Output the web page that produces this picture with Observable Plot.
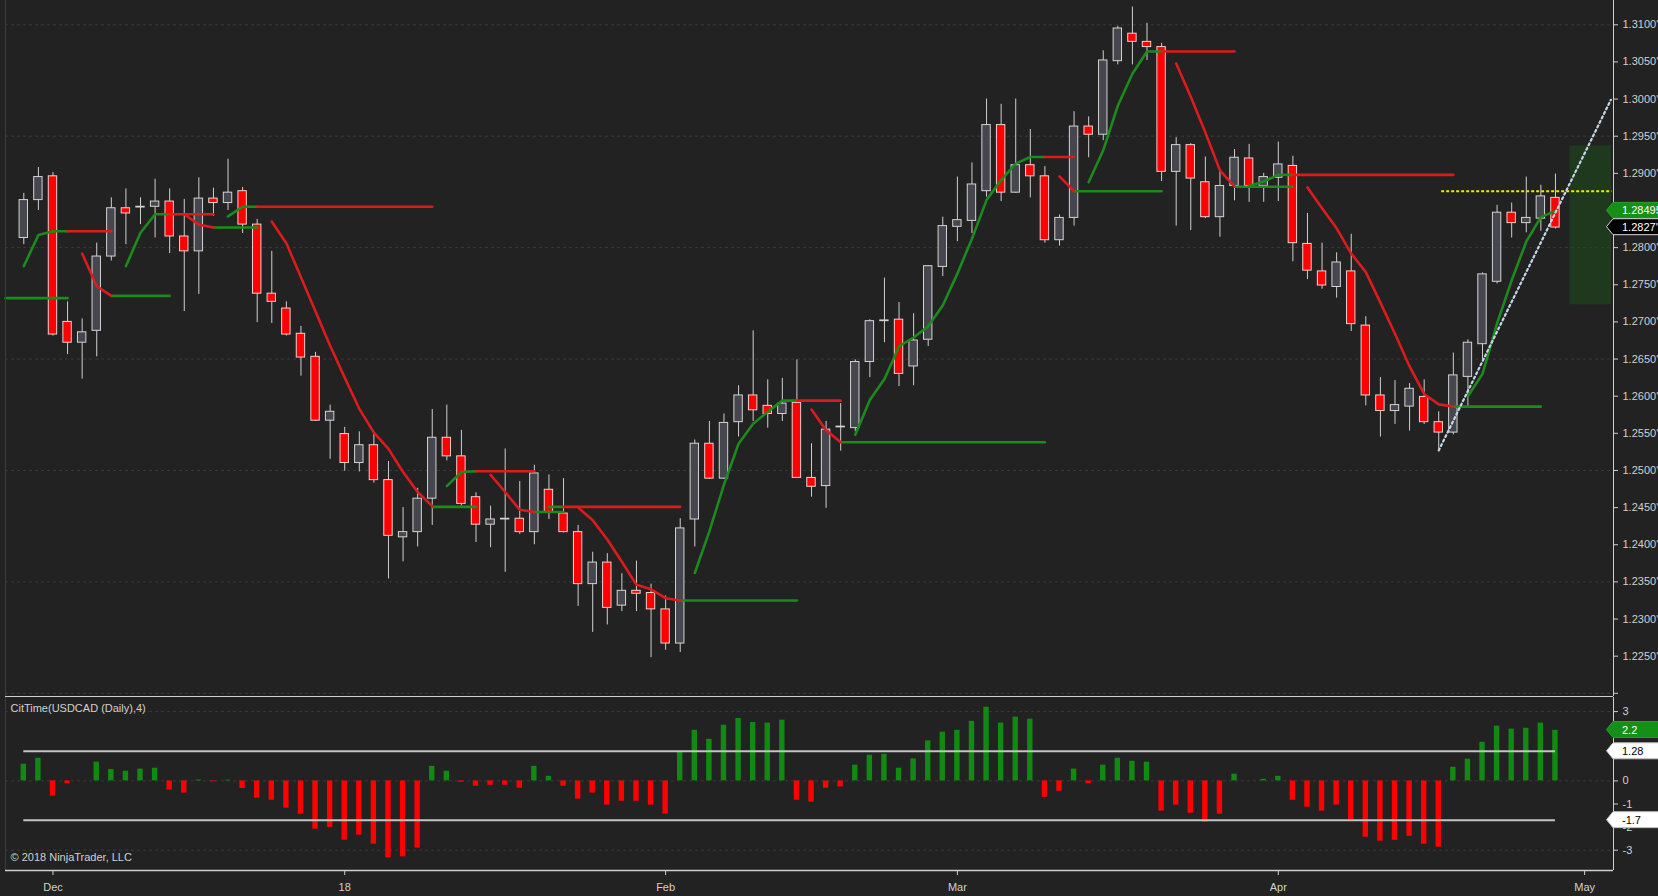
<!DOCTYPE html>
<html><head><meta charset="utf-8">
<script src="https://cdn.jsdelivr.net/npm/d3@7"></script>
<script src="https://cdn.jsdelivr.net/npm/@observablehq/plot@0.6"></script>
<style>
html,body{margin:0;padding:0;background:#222222;overflow:hidden}
#chart{width:1658px;height:896px;position:relative;background:#222222}
#chart svg{display:block}
</style></head><body><div id="chart"></div>
<script>
// ---- data (bar index 0 = 29 Nov 2017 ... 105 = 27 Apr 2018) ----
const opens = [1.2813,1.2864,1.2896,1.2700,1.2672,1.2688,1.2788,1.2853,1.2854,1.2855,
1.2862,1.2815,1.2795,1.2866,1.2860,1.2876,1.2831,1.2738,1.2718,1.2684,
1.2653,1.2567,1.2549,1.2510,1.2534,1.2487,1.2410,1.2417,1.2462,1.2544,
1.2519,1.2464,1.2427,1.2434,1.2435,1.2417,1.2474,1.2442,1.2417,1.2347,
1.2376,1.2318,1.2338,1.2335,1.2313,1.2267,1.2434,1.2536,1.2489,1.2565,
1.2601,1.2587,1.2576,1.2591,1.2490,1.2479,1.2558,1.2557,1.2646,1.2701,
1.2703,1.2640,1.2676,1.2774,1.2828,1.2836,1.2876,1.2965,1.2874,1.2911,
1.2896,1.2810,1.2840,1.2963,1.2952,1.3051,1.3088,1.3077,1.3070,1.2902,
1.2938,1.2888,1.2841,1.2883,1.2920,1.2883,1.2894,1.2910,1.2805,1.2768,
1.2747,1.2768,1.2695,1.2601,1.2580,1.2586,1.2599,1.2565,1.2551,1.2626,
1.2670,1.2754,1.2847,1.2833,1.2839,1.2867];
const highs = [1.2873,1.2908,1.2901,1.2727,1.2704,1.2806,1.2867,1.2879,1.2867,1.2892,
1.2879,1.2865,1.2894,1.2880,1.2919,1.2881,1.2838,1.2795,1.2727,1.2694,
1.2659,1.2588,1.2558,1.2552,1.2549,1.2512,1.2450,1.2476,1.2582,1.2588,
1.2554,1.2470,1.2452,1.2529,1.2485,1.2507,1.2494,1.2489,1.2426,1.2390,
1.2388,1.2361,1.2378,1.2347,1.2331,1.2435,1.2541,1.2566,1.2576,1.2614,
1.2688,1.2622,1.2624,1.2649,1.2536,1.2566,1.2590,1.2649,1.2703,1.2759,
1.2726,1.2711,1.2776,1.2841,1.2895,1.2914,1.3000,1.2993,1.3000,1.2959,
1.2909,1.2844,1.2983,1.2976,1.3065,1.3098,1.3124,1.3102,1.3075,1.2948,
1.2940,1.2922,1.2902,1.2932,1.2939,1.2900,1.2942,1.2923,1.2846,1.2806,
1.2793,1.2818,1.2707,1.2625,1.2621,1.2617,1.2622,1.2579,1.2658,1.2676,
1.2766,1.2857,1.2860,1.2895,1.2884,1.2899];
const lows = [1.2804,1.2850,1.2681,1.2656,1.2623,1.2653,1.2782,1.2804,1.2831,1.2813,
1.2792,1.2714,1.2737,1.2842,1.2850,1.2819,1.2699,1.2698,1.2681,1.2627,
1.2566,1.2515,1.2499,1.2498,1.2483,1.2354,1.2377,1.2397,1.2426,1.2513,
1.2452,1.2403,1.2396,1.2363,1.2414,1.2400,1.2434,1.2416,1.2317,1.2282,
1.2292,1.2310,1.2310,1.2248,1.2258,1.2255,1.2397,1.2488,1.2488,1.2545,
1.2566,1.2557,1.2566,1.2489,1.2464,1.2449,1.2526,1.2552,1.2625,1.2672,
1.2613,1.2614,1.2667,1.2761,1.2808,1.2819,1.2868,1.2862,1.2873,1.2867,
1.2806,1.2802,1.2829,1.2921,1.2944,1.3046,1.3046,1.3052,1.2889,1.2829,
1.2823,1.2839,1.2814,1.2863,1.2861,1.2861,1.2862,1.2781,1.2757,1.2744,
1.2732,1.2687,1.2587,1.2545,1.2562,1.2553,1.2562,1.2527,1.2548,1.2586,
1.2649,1.2751,1.2813,1.2820,1.2822,1.2825];
const closes = [1.2864,1.2895,1.2683,1.2672,1.2686,1.2788,1.2853,1.2846,1.2855,1.2862,
1.2815,1.2795,1.2866,1.2860,1.2874,1.2831,1.2738,1.2727,1.2683,1.2652,
1.2567,1.2579,1.2510,1.2534,1.2487,1.2412,1.2417,1.2462,1.2544,1.2519,
1.2455,1.2427,1.2434,1.2435,1.2417,1.2496,1.2443,1.2417,1.2347,1.2376,
1.2315,1.2338,1.2334,1.2313,1.2267,1.2422,1.2536,1.2489,1.2564,1.2601,
1.2581,1.2576,1.2590,1.2490,1.2478,1.2555,1.2559,1.2646,1.2701,1.2702,
1.2630,1.2675,1.2775,1.2829,1.2837,1.2885,1.2965,1.2874,1.2911,1.2896,
1.2810,1.2840,1.2963,1.2952,1.3052,1.3095,1.3077,1.3070,1.2902,1.2938,
1.2893,1.2841,1.2883,1.2921,1.2883,1.2895,1.2912,1.2806,1.2769,1.2749,
1.2780,1.2697,1.2601,1.2580,1.2588,1.2610,1.2565,1.2551,1.2628,1.2672,
1.2764,1.2847,1.2833,1.2840,1.2869,1.2827];
const citTime = [0.72,0.98,-0.66,-0.12,0.0,0.81,0.49,0.42,0.51,0.55,
-0.40,-0.53,0.04,-0.04,0.03,-0.33,-0.75,-0.84,-1.18,-1.44,
-2.09,-2.01,-2.57,-2.35,-2.74,-3.33,-3.29,-2.91,0.63,0.42,
-0.06,-0.23,-0.19,-0.19,-0.32,0.63,0.20,-0.23,-0.79,-0.53,
-1.05,-0.88,-0.88,-1.05,-1.44,1.24,2.19,1.80,2.41,2.70,
2.53,2.50,2.63,-0.84,-0.92,-0.32,-0.26,0.68,1.11,1.15,
0.55,0.95,1.73,2.11,2.19,2.58,3.19,2.50,2.76,2.67,
-0.71,-0.45,0.51,-0.12,0.68,0.98,0.85,0.81,-1.31,-1.05,
-1.40,-1.79,-1.44,0.29,0.0,0.07,0.20,-0.84,-1.14,-1.31,
-1.05,-1.70,-2.44,-2.61,-2.57,-2.40,-2.74,-2.87,0.59,0.94,
1.67,2.37,2.24,2.28,2.50,2.19];
// trailing stop lines: long (green) / short (red), points [bar index, price]
const stopSegments = [
 {side:"long", pts:[[-1.25,1.2732],[3,1.2732]]},
 {side:"long", pts:[[0,1.2775],[1,1.2817],[2,1.2822],[3,1.2822]]},
 {side:"short", pts:[[3,1.2822],[6,1.2822]]},
 {side:"short", pts:[[4,1.2792],[5,1.2748],[6,1.2735]]},
 {side:"long", pts:[[6,1.2735],[10,1.2735]]},
 {side:"long", pts:[[7,1.2775],[8,1.2820],[9,1.2845],[10,1.2845]]},
 {side:"short", pts:[[10,1.2845],[13,1.2845]]},
 {side:"short", pts:[[11,1.2845],[12,1.2831],[13,1.2827]]},
 {side:"long", pts:[[13,1.2827],[16,1.2827]]},
 {side:"long", pts:[[14,1.2842],[15,1.2855],[16,1.2855]]},
 {side:"short", pts:[[16,1.2855],[28,1.2855]]},
 {side:"short", pts:[[17,1.2835],[18,1.2806],[19,1.2760],[20,1.2714],[21,1.2668],[22,1.2625],[23,1.2583],[24,1.2551],[25,1.2529],[26,1.2498],[27,1.2471],[28,1.2452]]},
 {side:"long", pts:[[28,1.2451],[31,1.2451]]},
 {side:"long", pts:[[29,1.2479],[30,1.2498],[31,1.2499]]},
 {side:"short", pts:[[31,1.2499],[35,1.2499]]},
 {side:"short", pts:[[32,1.2494],[33,1.2471],[34,1.2447],[35,1.2444]]},
 {side:"long", pts:[[35,1.2444],[37,1.2444]]},
 {side:"long", pts:[[36,1.2451],[37,1.2451]]},
 {side:"short", pts:[[37,1.2451],[45,1.2451]]},
 {side:"short", pts:[[38,1.2450],[39,1.2433],[40,1.2407],[41,1.2377],[42,1.2346],[43,1.2340],[44,1.2328],[45,1.2325]]},
 {side:"long", pts:[[45,1.2325],[53,1.2325]]},
 {side:"long", pts:[[46,1.2362],[47,1.2418],[48,1.2481],[49,1.2536],[50,1.2563],[51,1.2579],[52,1.2594],[53,1.2594]]},
 {side:"short", pts:[[53,1.2594],[56,1.2594]]},
 {side:"short", pts:[[54,1.2582],[55,1.2554],[56,1.2538]]},
 {side:"long", pts:[[56,1.2538],[70,1.2538]]},
 {side:"long", pts:[[57,1.2548],[58,1.2595],[59,1.2623],[60,1.2667],[61,1.2679],[62,1.2694],[63,1.2722],[64,1.2765],[65,1.2812],[66,1.2864],[67,1.2891],[68,1.2913],[69,1.2922],[70,1.2922]]},
 {side:"short", pts:[[70,1.2922],[72,1.2922]]},
 {side:"short", pts:[[71,1.2896],[72,1.2876]]},
 {side:"long", pts:[[72,1.2876],[78,1.2876]]},
 {side:"long", pts:[[73,1.2888],[74,1.2931],[75,1.2991],[76,1.3034],[77,1.3064],[78,1.3064]]},
 {side:"short", pts:[[78,1.3064],[83,1.3064]]},
 {side:"short", pts:[[79,1.3048],[80,1.3003],[81,1.2955],[82,1.2904],[83,1.2882]]},
 {side:"long", pts:[[83,1.2882],[87,1.2882]]},
 {side:"long", pts:[[84,1.2883],[85,1.2889],[86,1.2898],[87,1.2898]]},
 {side:"short", pts:[[87,1.2898],[98,1.2898]]},
 {side:"short", pts:[[88,1.2881],[89,1.2853],[90,1.2826],[91,1.2792],[92,1.2767],[93,1.2726],[94,1.2684],[95,1.2640],[96,1.2603],[97,1.2589],[98,1.2586]]},
 {side:"long", pts:[[98,1.2586],[104,1.2586]]},
 {side:"long", pts:[[99,1.2600],[100,1.2630],[101,1.2698],[102,1.2756],[103,1.2808],[104,1.2841],[105,1.28495]]}
];
const trendLine = [[97,1.2527],[108.8,1.2999]];
const trigger = {from:97.2, price:1.2876};
const zone = {from:106, to:108.85, low:1.2723, high:1.2937};
const lastStop = 1.28495, lastClose = 1.28275, lastCit = 2.2;
const priceTicks = [1.2250,1.2300,1.2350,1.2400,1.2450,1.2500,1.2550,1.2600,1.2650,1.2700,1.2750,1.2800,1.2850,1.2900,1.2950,1.3000,1.3050,1.3100];
const priceTickMarks = [1.2200].concat(priceTicks);
const priceGrid = [1.2200,1.2350,1.2500,1.2650,1.2800,1.2950,1.3100];
const citTicks = [-3,-2,-1,0,1,2,3];
const citGrid = [-3,0,3];
const citLevels = [1.28,-1.7];
const monthTickIndex = [2,22,44,64,86,107];
const monthLabels = ["Dec","18","Feb","Mar","Apr","May"];
const indicatorTitle = "CitTime(USDCAD (Daily),4)";
const copyright = "© 2018 NinjaTrader, LLC";

// ---- layout ----
const W = 1658, H1 = 697, H2 = 199, mL = 5, mR = 45, mB2 = 26;
const xMin = -1.255, xMax = 108.98;
const pMin = 1.21957, pMax = 1.31327;
const vMin = -3.879, vMax = 3.610;
const ppi = (W - mL - mR) / (xMax - xMin);
const ppu = (H2 - mB2) / (vMax - vMin);
const ppp = (H1 - 1) / (pMax - pMin);
const bw = 4.2 / ppi, cbw = 2.7 / ppi;
const fontFamily = "'Liberation Sans', Arial, Helvetica, sans-serif";
const txt = "#d0d0d0", axisCol = "#cfcfcf";
const fmtPip = v => { const s = v.toFixed(5); return s.slice(0, -1) + "'" + s.slice(-1); };

const candles = opens.map((o, i) => ({i, o, h: highs[i], l: lows[i], c: closes[i]}));
const stopRows = stopSegments.flatMap((s, k) => s.pts.map(([i, p]) => ({k, i, p, side: s.side})));
const citRows = citTime.map((v, i) => ({i, v}));
// tick labels hidden behind the value tags (as on the original chart)
const priceTagVals = [lastStop, lastClose];
const citTagVals = [lastCit].concat(citLevels);
const priceLabels = priceTicks.filter(t => priceTagVals.every(v => Math.abs(v - t) * ppp > 6.7));
const citLabels = citTicks.filter(t => citTagVals.every(v => Math.abs(v - t) * ppu > 6.7));

const style = {background: "#222222", color: txt, fontFamily, fontSize: "11px"};

const p1 = Plot.plot({
  width: W, height: H1, marginLeft: mL, marginRight: mR, marginTop: 0, marginBottom: 1,
  x: {domain: [xMin, xMax], axis: null},
  y: {domain: [pMin, pMax], axis: null},
  style,
  marks: [
    Plot.ruleY(priceGrid, {y: d => d, stroke: "#3a3a3a", strokeDasharray: "3,3"}),
    Plot.rect([zone], {x1: "from", x2: "to", y1: "low", y2: "high", fill: "#1b4d1b", fillOpacity: 0.55}),
    Plot.ruleY([trigger], {y: "price", x1: "from", x2: xMax - 0.1, stroke: "#ecec00", strokeWidth: 2, strokeDasharray: "3,2"}),
    Plot.ruleX(candles, {x: "i", y1: "l", y2: "h", stroke: "#cfcfcf", strokeWidth: 1}),
    Plot.rect(candles.filter(d => d.c >= d.o), {x1: d => d.i - bw, x2: d => d.i + bw, y1: "o", y2: "c", fill: "#46464e", stroke: "#d4d4d4", strokeWidth: 1}),
    Plot.rect(candles.filter(d => d.c < d.o), {x1: d => d.i - bw, x2: d => d.i + bw, y1: "o", y2: "c", fill: "#ff0000", stroke: "#f0d0d0", strokeWidth: 1}),
    Plot.line(stopRows.filter(d => d.side === "long"), {x: "i", y: "p", z: "k", stroke: "#1c8a1c", strokeWidth: 2.6, strokeLinejoin: "round"}),
    Plot.line(stopRows.filter(d => d.side === "short"), {x: "i", y: "p", z: "k", stroke: "#dc1c1c", strokeWidth: 2.6, strokeLinejoin: "round"}),
    Plot.line(trendLine, {x: d => d[0], y: d => d[1], stroke: "#c4d6e6", strokeWidth: 2.2, strokeDasharray: "2,3"}),
    Plot.ruleY([pMin], {stroke: axisCol}),
    Plot.ruleX([xMax], {stroke: axisCol}),
    Plot.ruleX([xMin], {stroke: "#3c3c3c"}),
    Plot.ruleY(priceTickMarks, {y: d => d, x1: xMax, x2: xMax + 5 / ppi, stroke: axisCol}),
    Plot.text(priceLabels, {x: xMax, y: d => d, text: d => fmtPip(d), dx: 9, textAnchor: "start", fill: txt, fontSize: 11})
  ]
});

const p2 = Plot.plot({
  width: W, height: H2, marginLeft: mL, marginRight: mR, marginTop: 0, marginBottom: mB2,
  x: {domain: [xMin, xMax], axis: null},
  y: {domain: [vMin, vMax], axis: null},
  style,
  marks: [
    Plot.ruleY(citGrid, {y: d => d, stroke: "#3a3a3a", strokeDasharray: "3,3"}),
    Plot.rect(citRows.filter(d => d.v > 0), {x1: d => d.i - cbw, x2: d => d.i + cbw, y1: 0, y2: "v", fill: "#118a11"}),
    Plot.rect(citRows.filter(d => d.v < 0), {x1: d => d.i - cbw, x2: d => d.i + cbw, y1: 0, y2: "v", fill: "#ff0000"}),
    Plot.ruleY(citLevels, {y: d => d, x1: 0, x2: citTime.length - 1, stroke: "#c4c4c4", strokeWidth: 2}),
    Plot.ruleX([xMax], {stroke: axisCol}),
    Plot.ruleX([xMin], {stroke: "#3c3c3c"}),
    Plot.ruleY([vMin], {stroke: axisCol, strokeWidth: 1.5}),
    Plot.ruleY(citTicks, {y: d => d, x1: xMax, x2: xMax + 5 / ppi, stroke: axisCol}),
    Plot.text(citLabels, {x: xMax, y: d => d, text: d => String(d), dx: 9, textAnchor: "start", fill: txt, fontSize: 11}),
    Plot.ruleX(monthTickIndex, {x: d => d, y1: vMin, y2: vMin - 5 / ppu, stroke: axisCol}),
    Plot.text(monthTickIndex, {x: d => d, y: vMin, text: (d, k) => monthLabels[k], dy: 17, fill: txt, fontSize: 11}),
    Plot.text([indicatorTitle], {frameAnchor: "top-left", text: d => d, dx: 5, dy: 7, textAnchor: "start", fill: txt, fontSize: 11}),
    Plot.text([copyright], {frameAnchor: "bottom-left", text: d => d, dx: 5, dy: -10, textAnchor: "start", fill: txt, fontSize: 11})
  ]
});

function yFn(plot) {
  const s = plot.scale("y");
  if (s && typeof s.apply === "function") return v => s.apply(v);
  const [d0, d1] = s.domain, [r0, r1] = s.range;
  return v => r0 + (v - d0) / (d1 - d0) * (r1 - r0);
}
function addTag(plot, value, text, fill, textFill, stroke) {
  const y = yFn(plot)(value);
  const x0 = W - mR;
  const g = d3.select(plot).append("g");
  g.append("path")
    .attr("d", `M${x0 - 6.5},${y}L${x0},${y - 8}L${W + 2},${y - 8}L${W + 2},${y + 8}L${x0},${y + 8}Z`)
    .attr("fill", fill).attr("stroke", stroke).attr("stroke-width", 1);
  g.append("text").attr("x", x0 + 9).attr("y", y).attr("dy", "0.36em")
    .attr("text-anchor", "start")
    .attr("fill", textFill).attr("font-size", 11).text(text);
}
addTag(p1, lastStop, lastStop.toFixed(5), "#168f16", "#ffffff", "#2aa02a");
addTag(p1, lastClose, fmtPip(lastClose), "#000000", "#ffffff", "#d8d8d8");
addTag(p2, lastCit, String(lastCit), "#168f16", "#ffffff", "#2aa02a");
addTag(p2, citLevels[0], String(citLevels[0]), "#ffffff", "#000000", "#bbbbbb");
addTag(p2, citLevels[1], String(citLevels[1]), "#ffffff", "#000000", "#bbbbbb");

const root = document.getElementById("chart");
root.appendChild(p1);
root.appendChild(p2);
</script>
</body></html>
